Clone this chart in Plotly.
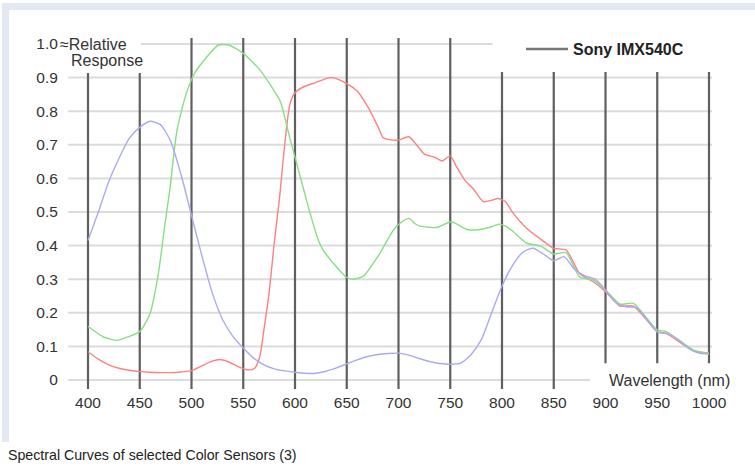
import plotly.graph_objects as go

# ---- data ----
blue_wl = [400, 410, 420, 430, 440, 450, 460, 470, 480, 490, 500, 510, 520, 530, 540, 550,
           560, 570, 580, 590, 600, 610, 620, 630, 640, 650, 660, 670, 680, 690, 700, 710,
           720, 730, 740, 750, 760, 770, 780, 790, 800, 810, 820, 830, 840, 850, 860, 870,
           880, 890, 900, 910, 920, 930, 940, 950, 960, 970, 980, 990, 1000]
blue_val = [0.415, 0.50, 0.59, 0.66, 0.72, 0.752, 0.77, 0.76, 0.71, 0.61, 0.49, 0.37, 0.26, 0.18, 0.13, 0.095,
            0.065, 0.045, 0.033, 0.027, 0.023, 0.02, 0.02, 0.026, 0.036, 0.048, 0.06, 0.07, 0.076, 0.079, 0.08, 0.074,
            0.064, 0.055, 0.049, 0.047, 0.05, 0.075, 0.12, 0.2, 0.28, 0.34, 0.38, 0.392, 0.375, 0.355, 0.367, 0.33,
            0.31, 0.30, 0.268, 0.23, 0.218, 0.215, 0.18, 0.143, 0.138, 0.12, 0.095, 0.08, 0.077]

red_wl = [400, 410, 420, 430, 440, 450, 460, 470, 480, 490, 500, 510, 520, 527, 535, 545, 555, 561,
          566, 570, 575, 580, 585, 590, 595, 600, 610, 620, 630, 635, 640, 650, 660, 670, 680, 685,
          690, 700, 710, 720, 725, 735, 742, 750, 756, 764, 772, 782, 790, 796, 803, 811, 824, 837,
          850, 862, 875, 888, 900, 914, 927, 950, 959, 985, 1000]
red_val = [0.084, 0.062, 0.045, 0.035, 0.029, 0.025, 0.023, 0.022, 0.022, 0.024, 0.028, 0.042, 0.056, 0.061, 0.055, 0.04, 0.03, 0.035,
           0.07, 0.15, 0.26, 0.41, 0.54, 0.70, 0.82, 0.855, 0.875, 0.885, 0.897, 0.9, 0.897, 0.882, 0.86, 0.815, 0.755, 0.722,
           0.716, 0.714, 0.724, 0.69, 0.672, 0.663, 0.652, 0.667, 0.635, 0.595, 0.57, 0.531, 0.535, 0.54, 0.532, 0.496, 0.451, 0.42,
           0.392, 0.387, 0.317, 0.293, 0.263, 0.22, 0.22, 0.144, 0.138, 0.087, 0.08]

green_wl = [400, 415, 428, 440, 450, 460, 468, 474, 479, 486, 495, 503, 515, 526, 536, 550, 566, 580,
            586, 595, 603, 611, 622, 627, 640, 650, 656, 666, 682, 695, 702, 710, 716, 721, 737, 751,
            766, 779, 790, 797, 804, 811, 824, 837, 850, 862, 875, 888, 900, 914, 927, 950, 959, 985, 1000]
green_val = [0.16, 0.128, 0.118, 0.13, 0.144, 0.198, 0.317, 0.456, 0.565, 0.744, 0.853, 0.913, 0.962, 0.997, 0.997, 0.972, 0.923, 0.86,
             0.828, 0.72, 0.63, 0.536, 0.421, 0.387, 0.337, 0.305, 0.3, 0.309, 0.377, 0.446, 0.468, 0.481, 0.465, 0.458, 0.454, 0.471,
             0.448, 0.448, 0.456, 0.464, 0.457, 0.441, 0.407, 0.399, 0.375, 0.379, 0.307, 0.298, 0.268, 0.226, 0.228, 0.149, 0.144, 0.089, 0.079]

x_ticks = [400, 450, 500, 550, 600, 650, 700, 750, 800, 850, 900, 950, 1000]
y_ticks = [0, 0.1, 0.2, 0.3, 0.4, 0.5, 0.6, 0.7, 0.8, 0.9, 1.0]
y_ticktext = ["0", "0.1", "0.2", "0.3", "0.4", "0.5", "0.6", "0.7", "0.8", "0.9", "1.0"]
sensor_name = "Sony IMX540C"
caption = "Spectral Curves of selected Color Sensors (3)"

FONT = "Liberation Sans, Arial, sans-serif"
W, H = 755, 468
BOT = 391  # pixel row of the bottom of the plotting domain

fig = go.Figure()
fig.add_trace(go.Scatter(x=red_wl, y=red_val, mode="lines", line=dict(color="rgb(255,128,128)", width=1.4, shape="spline", smoothing=0.6), showlegend=False, hoverinfo="skip"))
fig.add_trace(go.Scatter(x=green_wl, y=green_val, mode="lines", line=dict(color="rgb(135,222,135)", width=1.4, shape="spline", smoothing=0.6), showlegend=False, hoverinfo="skip"))
fig.add_trace(go.Scatter(x=blue_wl, y=blue_val, mode="lines", line=dict(color="rgb(170,170,240)", width=1.4, shape="spline", smoothing=0.6), showlegend=False, hoverinfo="skip"))
fig.add_trace(go.Scatter(x=[None], y=[None], mode="lines", name="<b>" + sensor_name + "</b>", line=dict(color="#777777", width=2.5)))

shapes = []
# frame bands
shapes.append(dict(type="rect", xref="paper", yref="paper", x0=2/W, x1=1, y0=1-10/H, y1=1-3/H, fillcolor="#e3e9f3", line=dict(width=0), layer="below"))
shapes.append(dict(type="rect", xref="paper", yref="paper", x0=2/W, x1=9/W, y0=1-442/H, y1=1-3/H, fillcolor="#e3e9f3", line=dict(width=0), layer="below"))

# horizontal grid lines
for v in y_ticks:
    if v == 1.0:
        shapes.append(dict(type="line", xref="x", yref="y", x0=451, x1=791, y0=v, y1=v, line=dict(color="#dcdcdc", width=2), layer="below"))
    elif v == 0:
        shapes.append(dict(type="line", xref="x domain", yref="y", x0=0, x1=(590-68)/(712-68), y0=v, y1=v, line=dict(color="#dcdcdc", width=2), layer="below"))
    else:
        shapes.append(dict(type="line", xref="x domain", yref="y", x0=0, x1=1, y0=v, y1=v, line=dict(color="#dcdcdc", width=2), layer="below"))

# vertical lines
for w in x_ticks:
    if w in (400, 450):
        top, bot = 0.914, -0.027
    elif w <= 750:
        top, bot = 1.018, -0.027
    elif w <= 850:
        top, bot = 0.917, -0.027
    else:
        top, bot = 0.917, 0.05
    shapes.append(dict(type="line", xref="x", yref="y", x0=w, x1=w, y0=bot, y1=top, line=dict(color="#5f5f5f", width=2.2), layer="below"))

annotations = [
    dict(text="≈Relative", xref="paper", yref="y", x=58/W, y=1.0, xanchor="left", yanchor="middle", showarrow=False, font=dict(family=FONT, size=16, color="#333333")),
    dict(text="Response", xref="paper", yref="y", x=69/W, y=0.95, xanchor="left", yanchor="middle", showarrow=False, font=dict(family=FONT, size=16, color="#333333")),
    dict(text="Wavelength (nm)", xref="paper", yref="y", x=732/W, y=0.0, xanchor="right", yanchor="middle", showarrow=False, font=dict(family=FONT, size=16, color="#333333")),
    dict(text=caption, xref="paper", yref="paper", x=6/W, y=1-455/H, xanchor="left", yanchor="middle", showarrow=False, font=dict(family=FONT, size=14.2, color="#222222")),
]

fig.update_layout(
    width=W, height=H, autosize=False,
    margin=dict(l=0, r=0, t=0, b=0, autoexpand=False),
    paper_bgcolor="white", plot_bgcolor="white",
    font=dict(family=FONT, size=15.5, color="#333333"),
    shapes=shapes, annotations=annotations,
    showlegend=True,
    legend=dict(x=521/W, y=1-32/H, xanchor="left", yanchor="top", bgcolor="rgba(0,0,0,0)", itemwidth=42,
                font=dict(family=FONT, size=16, color="#222222")),
    xaxis=dict(domain=[68/W, 712/W], range=[400 - 20/1.035, 400 + 624/1.035], tickvals=x_ticks,
               showgrid=False, zeroline=False, showline=False, ticks="", automargin=False,
               tickfont=dict(family=FONT, size=15.5, color="#333333"), fixedrange=True),
    yaxis=dict(domain=[1-BOT/H, 1], range=[(380-BOT)/336, 380/336], tickvals=y_ticks, ticktext=y_ticktext,
               showgrid=False, zeroline=False, showline=False, ticks="outside", ticklen=6, tickcolor="rgba(0,0,0,0)",
               automargin=False, tickfont=dict(family=FONT, size=15.5, color="#333333"), fixedrange=True),
)

post = ("document.documentElement.style.overflow='hidden';"
        "document.body.style.overflow='hidden';"
        "document.body.style.margin='0';")

fig.write_html("out.html", config={"responsive": False, "displayModeBar": False},
               post_script=post)
